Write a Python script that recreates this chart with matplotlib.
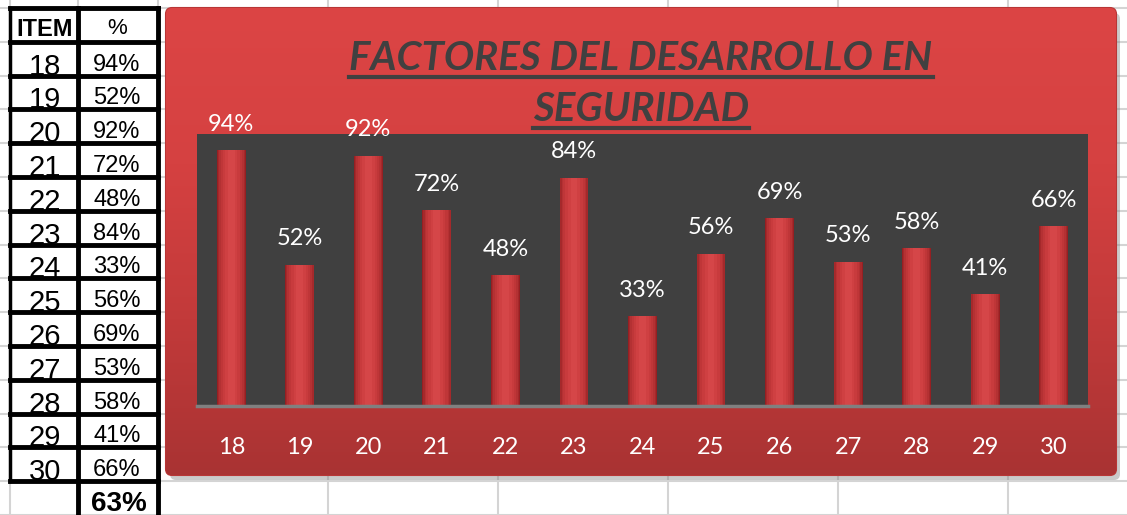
import numpy as np
import matplotlib.pyplot as plt
from matplotlib.patches import FancyBboxPatch
from matplotlib.lines import Line2D
from matplotlib.colors import LinearSegmentedColormap

items = ["18", "19", "20", "21", "22", "23", "24", "25", "26", "27", "28", "29", "30"]
pct = [94, 52, 92, 72, 48, 84, 33, 56, 69, 53, 58, 41, 66]
header = ["ITEM", "%"]
title_lines = ["FACTORES DEL DESARROLLO EN", "SEGURIDAD"]
average = round(sum(pct) / len(pct))

W, H = 1127, 515
fig = plt.figure(figsize=(W / 100, H / 100), dpi=100)
fig.patch.set_facecolor("white")

# full-figure axes in pixel coordinates for sheet + chart frame
bg = fig.add_axes([0, 0, 1, 1])
bg.set_xlim(0, W)
bg.set_ylim(H, 0)
bg.axis("off")

cell_font = ["Liberation Sans", "DejaVu Sans"]

# spreadsheet gridlines
col_x = [10, 78, 158, 328, 498, 668, 838, 1008]
row_h = 33.8
row_y = 8 + row_h * np.arange(16)
for x in col_x:
    bg.axvline(x, color="#d4d4d4", lw=1.5, zorder=0)
for y in row_y:
    bg.axhline(y, color="#d4d4d4", lw=1.5, zorder=0)

# table
n_rows = len(items) + 1
for k in range(n_rows + 1):
    bg.plot([10, 158], [row_y[k], row_y[k]], color="black", lw=3.5, zorder=2,
            solid_capstyle="projecting")
bg.plot([10, 10], [row_y[0], row_y[n_rows]], color="black", lw=2.5, zorder=2)
for x in (78, 158):
    bg.plot([x, x], [row_y[0], H], color="black", lw=3.5, zorder=2)

bg.text(45, row_y[1] - 6, header[0], ha="center", va="baseline", fontsize=17,
        fontweight="bold", family=cell_font, color="black")
bg.text(117, row_y[1] - 8, header[1], ha="center", va="baseline", fontsize=16,
        family=cell_font, color="black")
for i, (it, p) in enumerate(zip(items, pct)):
    yb = row_y[i + 2]
    bg.text(45, yb - 1, it, ha="center", va="baseline", fontsize=21,
            family=cell_font, color="black")
    bg.text(117, yb - 5, f"{p}%", ha="center", va="baseline", fontsize=17,
            family=cell_font, color="black")
bg.text(119, H - 4, f"{average}%", ha="center", va="baseline", fontsize=20,
        fontweight="bold", family=cell_font, color="black")

# chart frame with shadow and gradient
bx0, by0, bx1, by1 = 166, 8, 1116, 475
shadow = FancyBboxPatch((bx0 + 4, by0 + 5), bx1 - bx0, by1 - by0,
                        boxstyle="round,pad=0,rounding_size=6",
                        fc="#8a8a8a", ec="none", alpha=0.45, zorder=3)
bg.add_patch(shadow)
frame = FancyBboxPatch((bx0, by0), bx1 - bx0, by1 - by0,
                       boxstyle="round,pad=0,rounding_size=6",
                       fc="#d04040", ec="#b83636", lw=1.5, zorder=4)
bg.add_patch(frame)
cmap = LinearSegmentedColormap.from_list("frame", ["#dc4545", "#d54141", "#c23a3a", "#a93333"])
grad = np.linspace(0, 1, 256).reshape(-1, 1)
im = bg.imshow(grad, cmap=cmap, extent=(bx0, bx1, by1, by0), aspect="auto",
               zorder=5, interpolation="bicubic")
im.set_clip_path(frame)
bg.set_xlim(0, W)
bg.set_ylim(H, 0)

# bar chart axes
px0, px1, py0, py1 = 197, 1088, 134, 406
ax = fig.add_axes([px0 / W, (H - py1) / H, (px1 - px0) / W, (py1 - py0) / H])
ax.set_facecolor("#404040")
for s in ("top", "right", "left"):
    ax.spines[s].set_visible(False)
ax.spines["bottom"].set_color("#808080")
ax.spines["bottom"].set_linewidth(2.5)

x = np.arange(len(items))
vals = np.array(pct) / 100
layers = [(0.42, "#961f22"), (0.40, "#a5292b"), (0.36, "#b43133"), (0.31, "#bf3638"),
          (0.25, "#c83b3d"), (0.18, "#cf4042"), (0.10, "#d54648")]
for w, c in layers:
    ax.bar(x, vals, width=w, color=c, edgecolor="none", zorder=2)

for xi, v, p in zip(x, vals, pct):
    ax.annotate(f"{p}%", (xi, v), xytext=(0, 14), textcoords="offset points",
                ha="center", va="baseline", color="white", fontsize=17,
                family="Lato", annotation_clip=False)

ax.set_xlim(-0.5, len(items) - 0.5)
ax.set_ylim(0, 1.0)
ax.set_yticks([])
ax.set_xticks(x)
ax.set_xticklabels(items, color="white", fontsize=17, family="Lato")
ax.tick_params(axis="x", length=0, pad=22)

# title (figure level so it sits above the plot area)
title_y = [70, 121]
for ty, line in zip(title_y, title_lines):
    fig.text(641, ty, line, transform=bg.transData, ha="center", va="baseline",
             fontsize=29, fontweight="bold", fontstyle="italic",
             family="Lato", color="#404040")
fig.canvas.draw()
inv = bg.transData.inverted()
for txt in fig.texts:
    bb = txt.get_window_extent()
    (lx0, _), (lx1, _) = inv.transform([[bb.x0, bb.y0], [bb.x1, bb.y0]])
    uy = txt.get_position()[1] + 7
    fig.add_artist(Line2D([lx0, lx1], [uy, uy], transform=bg.transData,
                          color="#404040", lw=3))

fig.savefig("out.png", dpi=100)
